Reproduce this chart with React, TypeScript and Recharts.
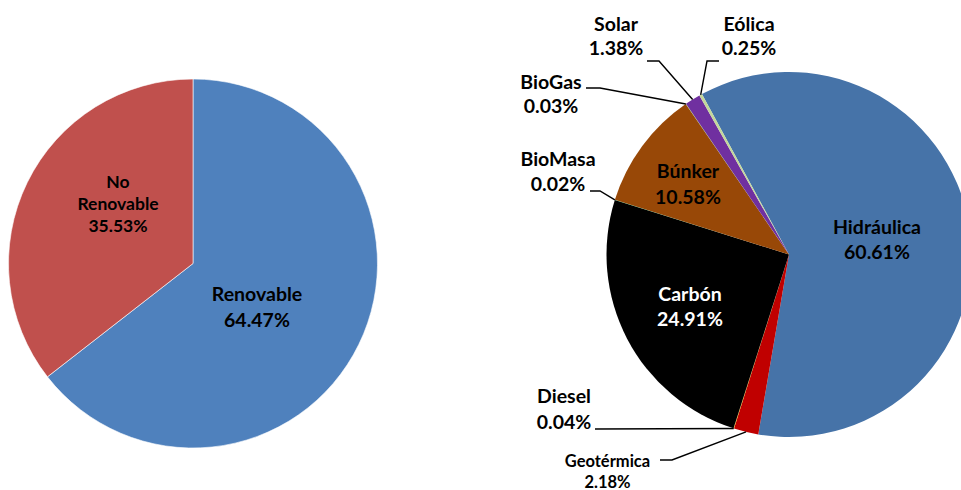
import React from "react";
import { PieChart, Pie, Cell } from "recharts";

// ---- data ----
const groupNames = ["Renovable", "No Renovable"];
const groupValues = [64.47, 35.53];
const groupColors = ["#4F81BD", "#C0504D"];

const sourceNames = [
  "Hidráulica",
  "Geotérmica",
  "Diesel",
  "Carbón",
  "BioMasa",
  "Búnker",
  "BioGas",
  "Solar",
  "Eólica",
];
const sourceValues = [60.61, 2.18, 0.04, 24.91, 0.02, 10.58, 0.03, 1.38, 0.25];
const sourceColors = [
  "#4673A8",
  "#C00000",
  "#FFC000",
  "#000000",
  "#00B050",
  "#984807",
  "#92D050",
  "#7030A0",
  "#C4D79B",
];

const groupData = groupNames.map((name, i) => ({ name, value: groupValues[i] }));
const sourceData = sourceNames.map((name, i) => ({ name, value: sourceValues[i] }));

// ---- label layout (relative to pie center) ----
type LabelLayout = {
  dx: number;
  dy: number; // baseline of first line
  lh: number;
  size: number;
  color?: string;
  wrap?: boolean;
  leader?: [number, number][];
};

const FONT = "Lato, 'Open Sans', sans-serif";

const groupLayout: Record<string, LabelLayout> = {
  Renovable: { dx: 64, dy: 37, lh: 26, size: 19.5 },
  "No Renovable": { dx: -75, dy: -76, lh: 22, size: 17.5, wrap: true },
};

const sourceLayout: Record<string, LabelLayout> = {
  Hidráulica: { dx: 88, dy: -21, lh: 25, size: 19.5 },
  Carbón: { dx: -99, dy: 46.5, lh: 24.5, size: 19.5, color: "#FFFFFF" },
  Búnker: { dx: -101, dy: -77, lh: 26, size: 19.5 },
  Geotérmica: {
    dx: -181.5,
    dy: 212,
    lh: 21,
    size: 16.5,
    leader: [
      [-129, 205.5],
      [-117, 205.5],
    ],
  },
  Diesel: {
    dx: -225,
    dy: 148,
    lh: 26.5,
    size: 19.5,
    leader: [[-194, 174.5]],
  },
  BioMasa: {
    dx: -231,
    dy: -88.5,
    lh: 24.7,
    size: 19.5,
    leader: [
      [-199, -63.5],
      [-189, -63.5],
    ],
  },
  BioGas: {
    dx: -238,
    dy: -165.2,
    lh: 24,
    size: 19.5,
    leader: [
      [-203, -166.5],
      [-189, -166.5],
    ],
  },
  Solar: {
    dx: -173,
    dy: -223.5,
    lh: 24,
    size: 19.5,
    leader: [
      [-142, -193.5],
      [-130, -193.5],
    ],
  },
  Eólica: {
    dx: -40,
    dy: -223.5,
    lh: 24,
    size: 19.5,
    leader: [
      [-70, -193.5],
      [-82, -193.5],
    ],
  },
};

const RAD = Math.PI / 180;

function makeLabel(layout: Record<string, LabelLayout>) {
  return (props: any) => {
    const { cx, cy, midAngle, outerRadius, name, value, index } = props;
    const l = layout[name];
    if (!l) return null;
    const lines = l.wrap
      ? [...String(name).split(" "), `${Number(value).toFixed(2)}%`]
      : [String(name), `${Number(value).toFixed(2)}%`];
    const x = cx + l.dx;
    let leader = null;
    if (l.leader) {
      const ex = cx + outerRadius * Math.cos(-midAngle * RAD);
      const ey = cy + outerRadius * Math.sin(-midAngle * RAD);
      const pts = [...l.leader.map(([px, py]) => [cx + px, cy + py]), [ex, ey]];
      leader = (
        <polyline
          points={pts.map((p) => p.join(",")).join(" ")}
          fill="none"
          stroke="#000"
          strokeWidth={1.4}
        />
      );
    }
    return (
      <g key={`lbl-${index}`}>
        {leader}
        <text
          x={x}
          y={cy + l.dy}
          textAnchor="middle"
          fontFamily={FONT}
          fontWeight={700}
          fontSize={l.size}
          fill={l.color ?? "#000"}
        >
          {lines.map((t, i) => (
            <tspan key={i} x={x} y={cy + l.dy + i * l.lh}>
              {t}
            </tspan>
          ))}
        </text>
      </g>
    );
  };
}

export default function App() {
  return (
    <div
      style={{
        position: "absolute",
        left: 0,
        top: 0,
        width: 961,
        height: 490,
        overflow: "hidden",
        background: "#fff",
      }}
    >
      <PieChart width={961} height={490} margin={{ top: 0, right: 0, bottom: 0, left: 0 }}>
        <Pie
          data={groupData}
          dataKey="value"
          nameKey="name"
          cx={193}
          cy={263.5}
          outerRadius={184.5}
          startAngle={90}
          endAngle={-270}
          stroke="#ffffff"
          strokeWidth={0.6}
          label={makeLabel(groupLayout)}
          labelLine={false}
          isAnimationActive={false}
        >
          {groupData.map((d, i) => (
            <Cell key={d.name} fill={groupColors[i]} />
          ))}
        </Pie>
        <Pie
          data={sourceData}
          dataKey="value"
          nameKey="name"
          cx={789}
          cy={254.5}
          outerRadius={182.5}
          startAngle={118.5}
          endAngle={-241.5}
          stroke="none"
          label={makeLabel(sourceLayout)}
          labelLine={false}
          isAnimationActive={false}
        >
          {sourceData.map((d, i) => (
            <Cell key={d.name} fill={sourceColors[i]} />
          ))}
        </Pie>
      </PieChart>
    </div>
  );
}
